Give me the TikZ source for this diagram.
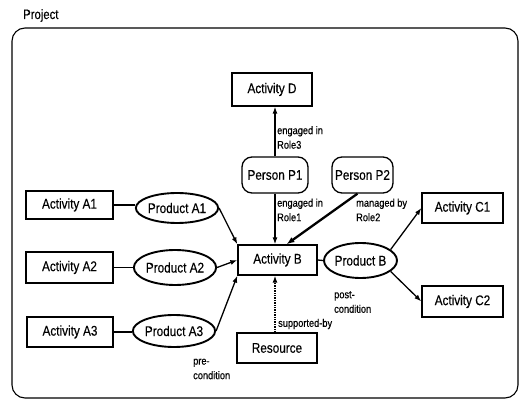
\documentclass[tikz,border=0pt]{standalone}
\usepackage{fontspec}
\setmainfont{Liberation Sans}[FakeStretch=0.84, FakeBold=0.35]
\usetikzlibrary{shapes.geometric,arrows.meta,calc}
\begin{document}
\begin{tikzpicture}[x=1pt,y=-1pt,
  nodefont/.style={font=\fontsize{14}{15}\selectfont},
  actbox/.style={draw, line width=1.3pt, minimum width=#1, minimum height=30pt, inner sep=0pt, nodefont},
  actbox/.default=81,
  person/.style={draw, line width=1.3pt, rounded corners=10pt, minimum width=#1, minimum height=36pt, inner sep=0pt, nodefont},
  product/.style={draw, ellipse, line width=1.9pt, minimum width=#1, minimum height=32pt, inner sep=0pt, nodefont},
  conn/.style={line width=1.3pt},
  arr/.style={line width=1.3pt, -{Latex[length=7pt,width=5pt]}},
  lbl/.style={align=left, inner sep=0pt, anchor=west, font=\fontsize{11}{14.5}\selectfont},
  frame/.style={draw, line width=1.1pt, rounded corners=13pt, minimum width=506pt, minimum height=370pt, inner sep=0pt}
]
\useasboundingbox (0,0) rectangle (523,401);
\node[frame] (proj) at (265,213) {};
\node[anchor=base west, inner sep=0pt, font=\fontsize{13.5}{15}\selectfont] (ttl) at (23,19) {Project};

% nodes
\node[actbox=80, minimum height=33pt] (D) at (272,89.5) {Activity D};
\node[person=66] (P1) at (275,175) {Person P1};
\node[person=61] (P2) at (362.5,175) {Person P2};
\node[actbox=79] (B) at (277.5,260) {Activity B};
\node[product=65, minimum height=35pt] (PB) at (360.5,260.5) {Product B};
\node[actbox=81] (C1) at (462.5,208) {Activity C1};
\node[actbox=81, minimum height=31pt] (C2) at (462.5,301.5) {Activity C2};
\node[actbox=80] (R) at (277,348) {Resource};
\node[actbox=87, minimum height=28pt] (A1) at (69.5,205) {Activity A1};
\node[actbox=87, minimum height=31pt] (A2) at (69.5,267.5) {Activity A2};
\node[actbox=86] (A3) at (70,332) {Activity A3};
\node[product=80, minimum height=30pt] (PA1) at (177,208) {Product A1};
\node[product=76, minimum height=35pt] (PA2) at (175,267.5) {Product A2};
\node[product=78, minimum height=32pt] (PA3) at (174,331) {Product A3};

% connectors
\draw[conn] (A1.east) -- (A1.east -| PA1.west);
\draw[conn] (A2.east) -- (PA2.west);
\draw[conn] (A3.east) -- (A3.east -| PA3.west);
\draw[arr] (PA1.east) -- (B.north west);
\draw[arr] (PA2.east) -- (B.west);
\draw[arr] (PA3.east) -- (B.south west);
\draw[arr] (P1.north) -- (P1.north |- D.south);
\draw[arr] (P1.south) -- (P1.south |- B.north);
\draw[line width=2.3pt, -{Latex[length=8pt,width=6pt]}] ($(P2.south)+(-5,0)$) -- ($(B.north)+(9,0)$);
\draw[line width=1.4pt, densely dotted, -{Latex[length=7pt,width=5pt]}] (R.north -| P1.south) -- (B.south -| P1.south);
\draw[conn] (B.east) -- (PB.west);
\draw[arr] (PB.20) -- (C1.west);
\draw[arr] (PB.-20) -- (C2.west);

% labels
\node[lbl] (l3) at (277,137.5) {engaged in\\Role3};
\node[lbl] (l1) at (277,210) {engaged in\\Role1};
\node[lbl] (l2) at (356,210) {managed by\\Role2};
\node[lbl] (ls) at (278,324) {supported-by};
\node[lbl] (lpost) at (334,302) {post-\\condition};
\node[lbl] (lpre) at (193,369) {pre-\\condition};
\end{tikzpicture}
\end{document}
